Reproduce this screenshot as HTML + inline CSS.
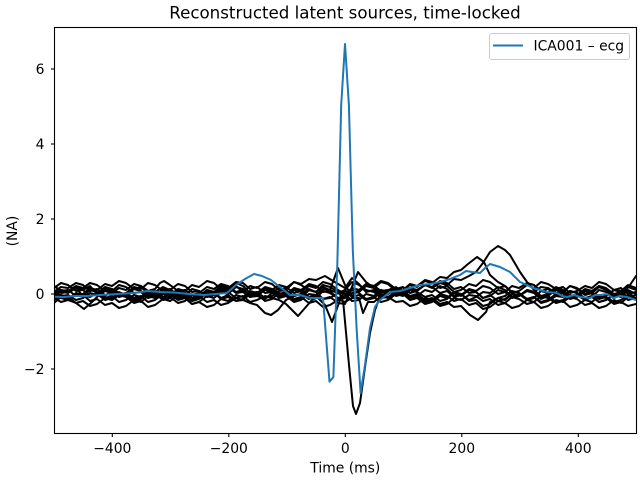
<!DOCTYPE html>
<html><head><meta charset="utf-8"><style>
html,body{margin:0;padding:0;background:#fff;}
svg{display:block;}
text{font-family:"DejaVu Sans","Liberation Sans",sans-serif;fill:#000;}
</style></head><body>
<svg width="640" height="480" viewBox="0 0 640 480" xmlns="http://www.w3.org/2000/svg">
<defs><clipPath id="c"><rect x="54" y="27" width="582" height="406"/></clipPath></defs>
<rect x="0" y="0" width="640" height="480" fill="#fff"/>
<text x="345" y="18.5" font-size="16.67" text-anchor="middle">Reconstructed latent sources, time-locked</text>
<g clip-path="url(#c)" fill="none" stroke="#000" stroke-width="2" stroke-linejoin="round" stroke-linecap="round">
<polyline points="54,290 61,293 68,292 76,288 83,296 90,297 97,293 105,287 112,289 119,293 126,295 134,300 141,298 148,294 155,292 163,287 170,290 178,296 185,294 192,299 199,297 207,291 214,293 221,288 228,289 236,286 243,292 250,297 257,296 265,299 272,293 279,288 286,290 294,296 301,294 309,289 316,292 323,287 330,290 340,294 343.3,303 349,365 353,406 356,414 360,403 365,367 370,333 375,310 378,302 388,290 396,287 403,293 410,298 417,296 425,290 432,292 440,286 447,289 454,296 461,294 469,300 476,297 483,292 490,293 498,287 505,290 512,297 519,294 527,300 534,298 541,291 548,293 556,287 563,290 570,296 577,295 585,300 592,297 599,290 606,292 614,298 621,295 628,291 636,300"/>
<polyline points="54,288 61,283 68,285 76,291 83,290 90,286 97,294 105,296 112,291 119,285 126,287 134,293 141,292 148,298 155,296 163,289 170,290 178,284 185,286 192,292 199,291 207,297 214,295 221,289 228,290 236,283 243,286 250,293 257,292 265,298 272,296 279,291 286,290 294,282 301,285 309,290 316,292 323,299 330,298 338,293 345,290 352,282 359,285 366,290 374,292 381,298 388,297 396,292 403,293 410,289 417,290 425,285 432,288 440,283 447,285 454,279 461,280 469,276 476,272 483,263 490,252 498,246 505,250 510,255 520,272 527,282 534,290 541,296 548,294 556,289 563,292 570,286 577,289 585,295 592,293 599,298 606,296 614,290 621,291 628,285 636,288"/>
<polyline points="54,298 61,302 68,300 76,294 83,296 90,290 97,292 105,298 112,296 119,302 126,300 134,295 141,297 148,291 155,293 163,299 170,297 178,303 185,301 192,295 199,297 207,290 214,292 221,298 228,295 236,301 243,299 250,293 257,295 265,288 272,290 279,296 286,294 294,300 301,298 309,290 316,292 323,285 330,287 338,292 345,294 352,301 359,300 366,294 374,296 381,290 388,292 396,288 403,290 410,285 417,287 425,281 432,283 440,277 447,278 454,272 461,270 468,264 477,257 484,262 490,275 498,282 505,286 512,292 519,293 527,299 534,297 541,303 548,301 556,296 563,297 570,291 577,293 585,298 592,296 599,302 606,300 614,295 621,297 628,290 636,294"/>
<polyline points="54,294 61,298 68,300 76,303 84,309 92,302 97,297 105,291 112,293 119,297 126,295 134,301 141,299 148,293 155,296 163,290 170,292 178,298 185,296 192,301 199,299 207,293 214,295 221,290 228,292 236,298 243,296 250,302 257,300 265,296 272,298 279,300 286,304 298,316 305,308 312,300 316,298 323,291 330,293 338,298 345,296 352,290 359,293 366,299 374,297 381,302 388,300 396,294 403,296 410,290 417,292 425,297 432,295 440,301 447,299 454,293 461,296 469,290 476,292 483,298 490,295 498,301 505,299 512,294 519,296 527,291 534,293 541,299 548,296 556,302 563,300 570,295 577,297 585,291 592,294 599,299 606,297 614,302 621,300 628,295 636,298"/>
<polyline points="54,296 61,291 68,293 76,288 83,290 90,296 97,294 105,300 112,298 119,292 126,295 134,289 141,291 148,296 155,294 163,300 170,298 178,293 185,295 192,289 199,291 207,296 214,293 221,299 228,297 236,301 243,300 250,303 257,305 265,313 271,315 278,310 286,300 294,296 301,294 309,299 316,296 325,305 332,322 340,300 345,290 352,297 359,295 366,300 374,298 381,292 388,294 396,289 403,291 410,296 417,294 425,300 432,298 440,304 447,302 454,307 461,306 470,315 478,320 486,312 490,302 498,298 505,296 512,291 519,293 527,299 534,297 541,302 548,300 556,294 563,296 570,291 577,293 585,299 592,297 599,302 606,300 614,294 621,295 630,285 636,276"/>
<polyline points="54,292 61,287 68,288 76,283 83,285 90,291 97,289 105,295 112,293 119,288 126,290 134,284 141,286 148,291 155,289 160,283 164,281 170,285 178,291 185,290 192,295 199,293 207,287 214,289 221,284 228,286 236,292 243,290 250,296 257,294 265,288 272,290 279,285 286,287 294,293 301,291 309,297 316,295 323,289 330,290 338,268 345,285 352,296 359,290 366,285 374,286 381,291 388,290 396,296 403,294 410,288 417,290 425,285 432,287 440,293 447,291 454,297 461,295 469,289 476,291 483,286 490,288 498,294 505,292 512,298 519,296 527,290 534,292 541,287 548,288 556,293 563,291 570,297 577,295 585,289 592,291 599,286 606,288 614,294 621,292 628,297 636,295"/>
<polyline points="54,300 61,295 68,297 76,303 83,301 90,306 97,304 105,298 112,300 119,295 126,297 134,303 141,301 148,307 155,305 163,299 170,301 178,296 185,298 192,304 199,302 207,307 214,305 221,299 228,301 236,295 243,297 250,291 257,293 265,287 272,289 279,294 286,292 294,299 301,297 309,303 316,301 323,307 330,305 338,300 345,298 352,293 359,292 366,286 374,288 381,282 388,284 396,291 403,290 410,297 417,296 425,302 432,300 440,306 447,304 454,298 461,300 469,295 476,296 483,301 490,299 498,305 505,303 512,308 519,306 527,300 534,302 541,296 548,298 556,303 563,301 570,307 577,305 585,300 592,302 599,296 606,298 614,304 621,302 628,306 636,304"/>
<polyline points="54,286 61,291 68,290 76,296 83,294 90,288 97,290 105,284 112,286 119,281 126,283 134,289 141,287 148,293 155,291 163,297 170,295 178,289 185,291 192,285 199,287 207,281 214,283 221,289 228,287 236,293 243,292 250,286 257,288 265,282 272,284 279,290 286,288 294,282 301,284 309,279 316,280 325,276 333,281 345,288 352,278 359,284 366,292 374,290 381,296 388,294 396,288 403,290 410,284 417,286 425,280 432,282 440,288 447,286 454,292 461,290 469,284 476,286 483,280 490,282 498,288 505,286 512,293 519,291 527,285 534,288 541,282 548,284 556,289 563,287 570,293 577,291 585,286 592,288 599,282 606,284 614,290 621,288 628,294 636,292"/>
<polyline points="54,303 61,297 68,299 76,293 83,295 90,301 97,299 105,305 112,303 119,308 126,306 134,300 141,302 148,296 155,298 163,292 170,294 178,300 185,298 192,304 199,302 207,296 214,298 221,292 228,294 236,287 243,289 250,296 257,294 265,301 272,299 279,293 286,295 294,288 301,290 309,284 316,286 323,292 330,291 338,299 345,302 352,298 359,298 363,313 368,302 374,302 381,296 388,298 396,292 403,294 410,300 417,298 425,304 432,302 440,296 447,298 454,292 461,294 469,301 476,300 483,306 490,304 498,298 505,300 512,294 519,296 527,290 534,292 541,298 548,296 556,290 563,292 570,286 577,288 585,294 592,292 599,298 606,296 614,290 621,292 628,287 636,290"/>
<polyline points="54,291 61,296 68,295 76,300 83,298 90,293 97,295 105,289 112,291 119,295 126,293 134,298 141,296 148,302 155,300 163,294 170,296 178,291 185,293 192,298 199,296 207,302 214,300 221,305 228,303 236,298 243,300 250,294 257,296 265,290 272,292 279,298 286,296 294,302 301,300 309,294 316,295 323,299 330,297 338,303 345,304 358,272 366,282 374,288 381,294 388,297 396,302 403,301 410,306 417,304 425,298 432,300 440,294 447,296 454,301 461,299 469,305 476,303 483,309 490,307 498,301 505,303 512,297 519,299 527,304 534,302 541,308 548,306 556,300 563,302 570,297 577,299 585,305 592,303 599,308 606,306 614,300 621,303 628,297 636,298"/>
<polyline points="54,295 61,290 68,291 76,286 83,288 90,283 97,285 105,291 112,289 119,295 126,293 134,287 141,289 148,283 155,285 163,291 170,289 178,295 185,293 192,298 199,296 207,290 214,292 221,286 228,288 236,282 243,283 250,289 257,287 265,293 272,292 279,297 286,296 294,290 301,292 309,286 316,288 323,282 330,284 338,290 345,294 352,288 359,290 366,284 374,286 381,281 388,283 396,289 403,287 410,293 417,291 425,285 432,287 440,281 447,283 454,289 461,287 469,293 476,292 483,298 490,296 498,290 505,292 512,286 519,288 527,283 534,285 541,291 548,289 556,295 563,293 570,299 577,297 585,291 592,293 599,287 606,290 614,296 621,294 628,300 636,298"/>
<polyline stroke="#1f77b4" points="54,296.7 64,297 74,296 87,296 100,295 117,294 134,293 147,291 160,292 174,292.5 189,294 204,295 216,294 227,293 236,285 245,279 254,274 262,276 271,280 280,287 290,295 300,295 310,298 315,298 323,298 329.5,381.7 333.4,377 337.3,265 341.2,105 345,44 348.9,105 352.8,250 356.7,330 360.6,393 365,365 370,328 375,307 380,300 390,292 400,291 410,288 420,285 430,284 440,282 450,279 460,275 466,271 472,272 480,273 485,268 490,264 500,267 510,272 520,282 527,285 533,288 540,290 547,292 557,293 562,296 567,297 574,295 580,297 590,298 595,295 600,295 607,294 613,298 620,296 627,297 636,300"/>
</g>
<rect x="54.5" y="27.5" width="582" height="406" fill="none" stroke="#000" stroke-width="1.1"/>
<g stroke="#000" stroke-width="1.1">
<line x1="112.3" y1="433.5" x2="112.3" y2="437"/>
<line x1="228.8" y1="433.5" x2="228.8" y2="437"/>
<line x1="345.3" y1="433.5" x2="345.3" y2="437"/>
<line x1="461.8" y1="433.5" x2="461.8" y2="437"/>
<line x1="578.3" y1="433.5" x2="578.3" y2="437"/>
<line x1="51" y1="69" x2="54.5" y2="69"/>
<line x1="51" y1="144" x2="54.5" y2="144"/>
<line x1="51" y1="219" x2="54.5" y2="219"/>
<line x1="51" y1="294" x2="54.5" y2="294"/>
<line x1="51" y1="369" x2="54.5" y2="369"/>
</g>
<g font-size="13.9" text-anchor="middle">
<text x="112.3" y="453">−400</text>
<text x="228.8" y="453">−200</text>
<text x="345.3" y="453">0</text>
<text x="461.8" y="453">200</text>
<text x="578.3" y="453">400</text>
<text x="345.3" y="472.5">Time (ms)</text>
</g>
<g font-size="13.9" text-anchor="end">
<text x="44.5" y="74">6</text>
<text x="44.5" y="149">4</text>
<text x="44.5" y="224">2</text>
<text x="44.5" y="299">0</text>
<text x="44.5" y="374">−2</text>
</g>
<text x="17" y="231" font-size="13.9" text-anchor="middle" transform="rotate(-90 17 231)">(NA)</text>
<rect x="489.5" y="33.5" width="140" height="26" rx="2.5" ry="2.5" fill="#fff" fill-opacity="0.8" stroke="#ccc" stroke-width="1"/>
<line x1="493" y1="45.5" x2="523" y2="45.5" stroke="#1f77b4" stroke-width="2"/>
<text x="533.5" y="50.5" font-size="13.9">ICA001 – ecg</text>
</svg>
</body></html>
